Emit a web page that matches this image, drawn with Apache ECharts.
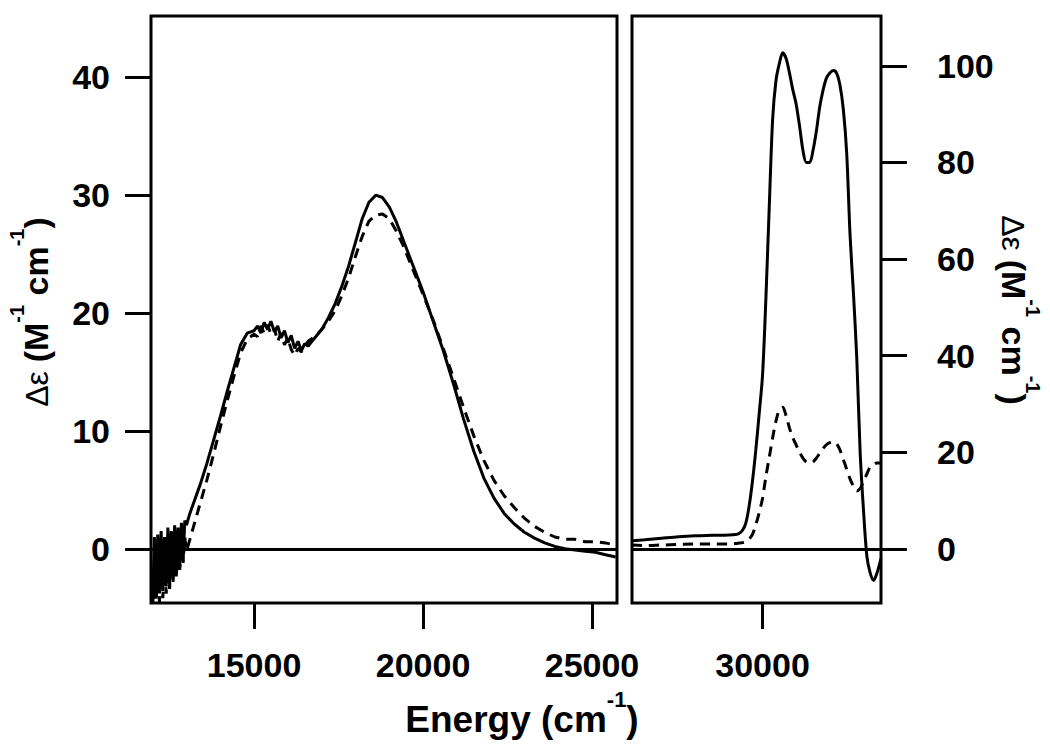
<!DOCTYPE html>
<html><head><meta charset="utf-8">
<script src="https://cdn.jsdelivr.net/npm/echarts@6/dist/echarts.min.js"></script>
<style>html,body{margin:0;padding:0;background:#fff}#c{width:1050px;height:744px}</style>
</head><body><div id="c"></div>
<script>
// ---- data ----
const leftEnergy = [
  12000,12050,12100,12150,12200,12250,12300,12350,12400,12450,
  12500,12550,12600,12650,12700,12750,12800,12850,12900,12950,
  13000,13100,13200,13300,13400,13500,13600,13800,14000,14200,
  14400,14600,14800,15000,15100,15200,15300,15400,15500,15600,
  15700,15800,15900,16000,16100,16200,16300,16400,16500,16600,
  16800,17000,17200,17400,17600,17800,18000,18200,18400,18600,
  18800,19000,19200,19400,19600,19800,20000,20300,20600,20900,
  21200,21500,21800,22100,22400,22700,23000,23300,23600,23900,
  24200,24500,24800,25100,25400,25700
];
const leftSolid = [
  -4.5,1.0,-4.2,1.2,-3.8,1.5,-3.6,1.0,-3.2,1.8,
  -3.0,1.5,-2.6,2.0,-2.2,1.8,-1.6,2.2,-1.0,2.4,
  2.0,3.0,3.8,4.6,5.4,6.3,7.2,9.2,11.2,13.3,
  15.3,17.3,18.3,18.5,18.9,18.3,19.2,18.6,19.3,18.4,
  18.9,17.9,18.5,17.5,18.1,17.0,17.6,16.8,17.4,17.2,
  17.9,18.6,19.6,20.8,22.3,24.0,26.0,28.0,29.4,30.0,
  29.8,29.0,27.8,26.3,24.8,23.3,21.8,19.3,16.8,14.0,
  11.0,8.3,6.0,4.3,3.0,2.1,1.4,0.9,0.5,0.2,
  0.0,-0.1,-0.2,-0.3,-0.5,-0.7
];
const leftDashed = [
  -4.5,-2.5,-4.5,-2.0,-4.5,-1.5,-4.2,-1.0,-3.8,-0.8,
  -3.4,-0.5,-2.9,0.0,-2.4,0.5,-1.8,0.8,-1.2,1.0,
  -0.2,0.8,1.8,2.8,3.8,4.8,5.8,8.0,10.3,12.5,
  14.6,16.6,17.8,18.2,18.0,18.9,18.3,19.0,18.2,18.7,
  17.6,18.3,17.3,17.9,16.9,16.4,17.0,16.7,17.1,17.6,
  18.0,18.6,19.3,20.2,21.5,23.0,24.8,26.5,27.8,28.3,
  28.4,28.0,27.0,25.8,24.4,23.0,21.6,19.4,17.0,14.5,
  12.0,9.6,7.5,5.8,4.5,3.5,2.6,1.9,1.4,1.0,
  0.8,0.8,0.6,0.6,0.5,0.3
];
const rightEnergy = [
  26120,26500,27000,27500,28000,28500,29000,29200,29300,29400,
  29500,29600,29700,29800,29900,30000,30100,30200,30300,30400,
  30500,30600,30700,30800,30900,31000,31100,31200,31300,31400,
  31500,31600,31700,31800,31900,32000,32100,32200,32300,32400,
  32500,32600,32700,32800,32900,33000,33100,33200,33300,33400,
  33520
];
const rightSolid = [
  1.7,1.9,2.2,2.5,2.7,2.8,2.9,3.0,3.2,3.8,
  5.3,8.8,14,20.5,28,36,52,71,89,97,
  100.5,102.7,101.5,98.5,95,92,87.5,82.5,80,80,
  82.5,86.5,91.5,95,97.5,98.5,99,98.5,96,91,
  82,65,53,39.5,20,8,-1.5,-5,-6.5,-5,
  -2
];
const rightDashed = [
  0.8,0.7,0.8,0.9,1.0,1.0,1.0,1.1,1.2,1.3,
  1.5,2.0,3.0,5.0,7.5,10.5,15,19,23,26.5,
  28.8,29.3,27.5,25,23,21.5,20,18.8,18,17.8,
  18,18.8,19.8,20.8,21.6,22,22.2,21.8,20.5,18.5,
  16.5,14.5,13,12,12.5,14,15.5,17,17.5,17.8,
  17.8
];
const leftXTicks = [15000, 20000, 25000];
const rightXTicks = [30000];
const leftYTicks = [0, 10, 20, 30, 40];
const rightYTicks = [0, 20, 40, 60, 80, 100];
const xTitle = 'Energy (cm';

// ---- chart ----
const FONT = '"Liberation Sans", Arial, Helvetica, sans-serif';
const chart = echarts.init(document.getElementById('c'), null, {renderer: 'svg'});
const labelStyle = {color: '#000', fontSize: 34, fontWeight: 'bold', fontFamily: FONT, formatter: v => String(v)};
const tickStyle = {show: true, inside: false, length: 26, lineStyle: {color: '#000', width: 3}};
const hiddenLine = {show: false, onZero: false};
function pairs(xs, ys) { return xs.map((x, i) => [x, ys[i]]); }
const zeroLine = {silent: true, symbol: 'none', label: {show: false}, lineStyle: {color: '#000', width: 3, type: 'solid'}, data: [{yAxis: 0}]};
function rich(big) {
  return {
    a: {fontSize: big, fontWeight: 'bold', fontFamily: FONT, fill: '#000', color: '#000', lineHeight: big + 12, verticalAlign: 'bottom'},
    g: {fontSize: big - 2, fontWeight: 'normal', fontFamily: FONT, fill: '#000', color: '#000', lineHeight: big + 12, verticalAlign: 'bottom'},
    s: {fontSize: Math.round(big * 0.6), fontWeight: 'bold', fontFamily: FONT, fill: '#000', color: '#000', lineHeight: Math.round(big * 0.6), verticalAlign: 'top'}
  };
}
const yTitleText = '{g|Δε }{a|(M}{s|-1}{a| cm}{s|-1}{a|)}';

chart.setOption({
  animation: false,
  backgroundColor: '#fff',
  grid: [
    {left: 151, top: 16, width: 466, height: 587, show: true, borderColor: '#000', borderWidth: 3, backgroundColor: 'transparent'},
    {left: 632, top: 16, width: 249, height: 587, show: true, borderColor: '#000', borderWidth: 3, backgroundColor: 'transparent'}
  ],
  xAxis: [
    {gridIndex: 0, type: 'value', min: 11950, max: 25740, axisLine: hiddenLine, splitLine: {show: false},
     axisTick: Object.assign({customValues: leftXTicks}, tickStyle),
     axisLabel: Object.assign({customValues: leftXTicks, margin: 45}, labelStyle)},
    {gridIndex: 1, type: 'value', min: 26120, max: 33520, axisLine: hiddenLine, splitLine: {show: false},
     axisTick: Object.assign({customValues: rightXTicks}, tickStyle),
     axisLabel: Object.assign({customValues: rightXTicks, margin: 45}, labelStyle)}
  ],
  yAxis: [
    {gridIndex: 0, type: 'value', position: 'left', min: -4.6, max: 45.2, axisLine: hiddenLine, splitLine: {show: false},
     axisTick: Object.assign({customValues: leftYTicks}, tickStyle),
     axisLabel: Object.assign({customValues: leftYTicks, margin: 41}, labelStyle)},
    {gridIndex: 1, type: 'value', position: 'right', min: -11.2, max: 110.3, axisLine: hiddenLine, splitLine: {show: false},
     axisTick: Object.assign({customValues: rightYTicks}, tickStyle),
     axisLabel: Object.assign({customValues: rightYTicks, margin: 56}, labelStyle)}
  ],
  series: [
    {type: 'line', xAxisIndex: 0, yAxisIndex: 0, data: pairs(leftEnergy, leftSolid), symbol: 'none', lineStyle: {color: '#000', width: 3}, markLine: zeroLine, z: 3},
    {type: 'line', xAxisIndex: 0, yAxisIndex: 0, data: pairs(leftEnergy, leftDashed), symbol: 'none', lineStyle: {color: '#000', width: 3, type: [10, 7]}, z: 3},
    {type: 'line', xAxisIndex: 1, yAxisIndex: 1, data: pairs(rightEnergy, rightSolid), symbol: 'none', smooth: 0.3, lineStyle: {color: '#000', width: 3}, markLine: zeroLine, z: 3},
    {type: 'line', xAxisIndex: 1, yAxisIndex: 1, data: pairs(rightEnergy, rightDashed), symbol: 'none', smooth: 0.3, lineStyle: {color: '#000', width: 3, type: [10, 7]}, z: 3}
  ],
  graphic: [
    {type: 'text', x: 522, y: 713, silent: true,
     style: {text: '{a|' + xTitle + '}{s|-1}{a|)}', rich: rich(37), align: 'center', verticalAlign: 'middle', fill: '#000'}},
    {type: 'text', x: 30, y: 312, rotation: Math.PI / 2, silent: true,
     style: {text: yTitleText, rich: rich(34), align: 'center', verticalAlign: 'middle', fill: '#000'}},
    {type: 'text', x: 1020, y: 310, rotation: -Math.PI / 2, silent: true,
     style: {text: yTitleText, rich: rich(34), align: 'center', verticalAlign: 'middle', fill: '#000'}}
  ]
});
</script>
</body></html>
